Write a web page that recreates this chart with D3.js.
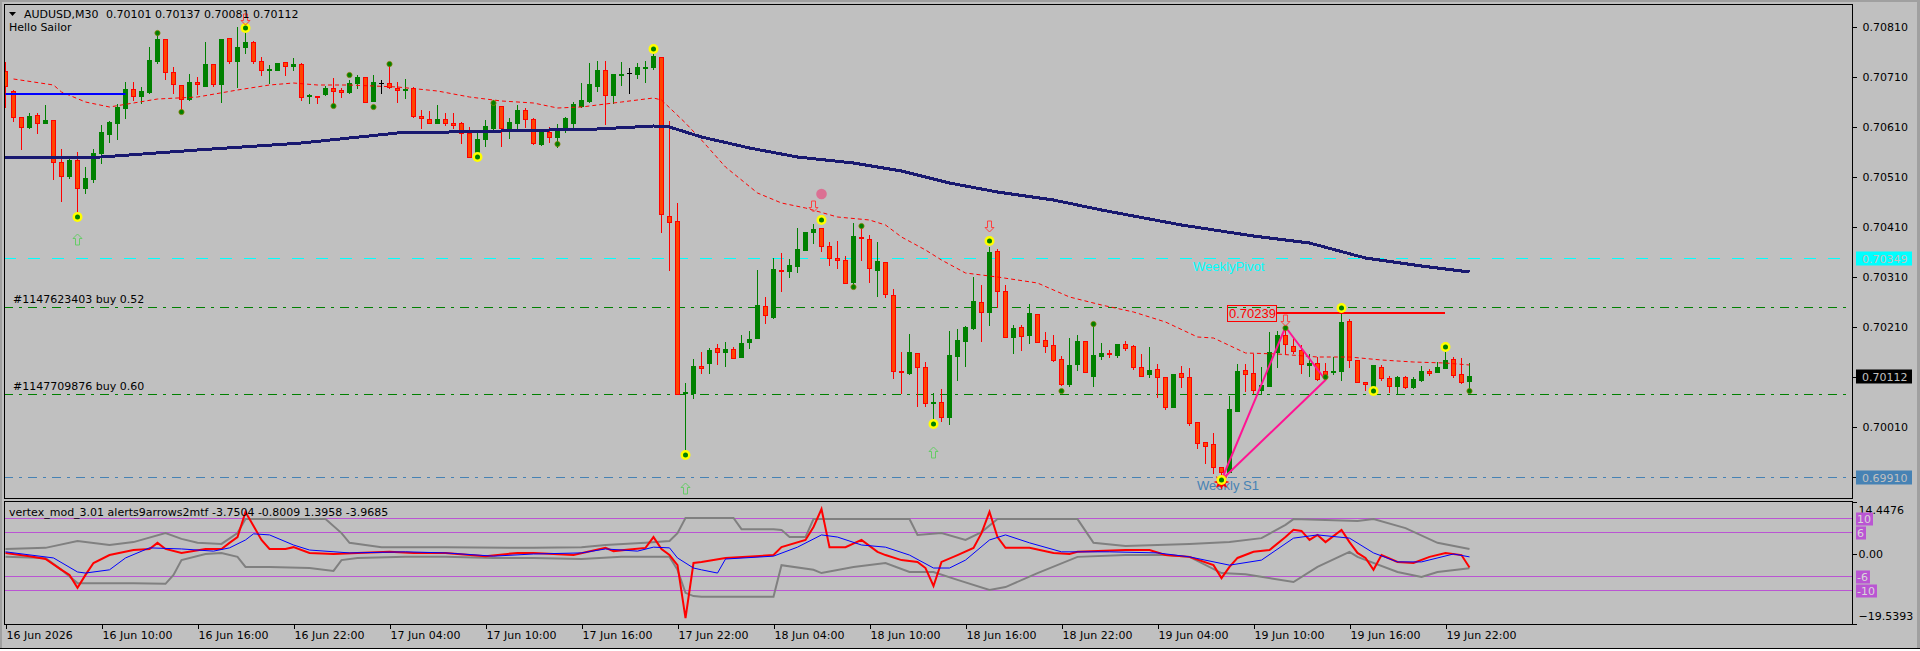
<!DOCTYPE html>
<html>
<head>
<meta charset="utf-8">
<script src="https://cdn.jsdelivr.net/npm/d3@7"></script>
<style>
body{margin:0;background:#c0c0c0;overflow:hidden}
svg{display:block}
text{font-family:"DejaVu Sans",sans-serif;font-size:11px}
</style>
</head>
<body>
<div id="wrap"></div>
<script>
// AUDUSD M30 bars, 16 Jun 04:00 .. 19 Jun 23:30
var barOpen = [
0.70722,0.70682,0.70630,0.70610,0.70634,0.70618,0.70624,0.70540,0.70512,0.70544,
0.70488,0.70506,0.70558,0.70596,0.70618,0.70648,0.70686,0.70672,0.70680,0.70742,
0.70786,0.70720,0.70694,0.70666,0.70700,0.70692,0.70736,0.70696,0.70788,0.70742,
0.70770,0.70780,0.70742,0.70724,0.70724,0.70740,0.70732,0.70736,0.70672,0.70672,
0.70676,0.70688,0.70684,0.70680,0.70698,0.70710,0.70662,0.70698,0.70698,0.70688,
0.70684,0.70688,0.70632,0.70626,0.70618,0.70626,0.70618,0.70618,0.70598,0.70558,
0.70586,0.70608,0.70652,0.70608,0.70618,0.70644,0.70626,0.70576,0.70600,0.70590,
0.70604,0.70618,0.70652,0.70662,0.70692,0.70724,0.70674,0.70714,0.70718,0.70716,
0.70728,0.70730,0.70750,0.70432,0.70422,0.70078,0.70078,0.70132,0.70138,0.70168,
0.70160,0.70166,0.70150,0.70180,0.70188,0.70252,0.70230,0.70324,0.70322,0.70332,
0.70364,0.70400,0.70408,0.70372,0.70348,0.70344,0.70300,0.70390,0.70386,0.70324,
0.70340,0.70274,0.70122,0.70118,0.70158,0.70130,0.70058,0.70060,0.70030,0.70152,
0.70182,0.70208,0.70260,0.70240,0.70362,0.70282,0.70190,0.70210,0.70194,0.70236,
0.70184,0.70174,0.70146,0.70096,0.70136,0.70182,0.70112,0.70152,0.70158,0.70154,
0.70176,0.70172,0.70130,0.70116,0.70126,0.70110,0.70050,0.70118,0.70110,0.70020,
0.69980,0.69976,0.69930,0.69920,0.70042,0.70124,0.70118,0.70084,0.70092,0.70160,
0.70194,0.70172,0.70164,0.70134,0.70138,0.70122,0.70120,0.70122,0.70222,0.70144,
0.70100,0.70084,0.70130,0.70108,0.70092,0.70110,0.70090,0.70104,0.70122,0.70120,
0.70128,0.70146,0.70116,0.70101];
var barHigh = [
0.70740,0.70684,0.70630,0.70638,0.70638,0.70654,0.70624,0.70566,0.70546,0.70560,
0.70530,0.70566,0.70614,0.70622,0.70656,0.70700,0.70700,0.70690,0.70770,0.70800,
0.70786,0.70730,0.70694,0.70716,0.70710,0.70780,0.70736,0.70786,0.70788,0.70810,
0.70800,0.70782,0.70750,0.70734,0.70738,0.70740,0.70748,0.70738,0.70676,0.70672,
0.70692,0.70708,0.70688,0.70704,0.70714,0.70710,0.70714,0.70704,0.70740,0.70700,
0.70706,0.70690,0.70644,0.70642,0.70654,0.70638,0.70638,0.70620,0.70610,0.70598,
0.70624,0.70664,0.70652,0.70628,0.70654,0.70648,0.70628,0.70602,0.70610,0.70616,
0.70630,0.70660,0.70698,0.70738,0.70742,0.70742,0.70716,0.70740,0.70728,0.70738,
0.70742,0.70758,0.70750,0.70622,0.70458,0.70098,0.70146,0.70160,0.70168,0.70176,
0.70180,0.70170,0.70194,0.70202,0.70324,0.70270,0.70348,0.70358,0.70346,0.70408,
0.70400,0.70416,0.70408,0.70380,0.70382,0.70352,0.70418,0.70410,0.70394,0.70380,
0.70340,0.70286,0.70160,0.70196,0.70158,0.70140,0.70078,0.70086,0.70202,0.70206,
0.70212,0.70310,0.70294,0.70370,0.70366,0.70294,0.70214,0.70214,0.70256,0.70236,
0.70200,0.70194,0.70152,0.70188,0.70194,0.70182,0.70216,0.70178,0.70164,0.70176,
0.70182,0.70174,0.70156,0.70170,0.70136,0.70110,0.70116,0.70132,0.70128,0.70020,
0.69980,0.69998,0.69930,0.70072,0.70136,0.70136,0.70156,0.70130,0.70200,0.70202,
0.70210,0.70190,0.70174,0.70156,0.70150,0.70138,0.70150,0.70240,0.70226,0.70144,
0.70100,0.70134,0.70134,0.70112,0.70112,0.70112,0.70110,0.70132,0.70126,0.70140,
0.70160,0.70150,0.70148,0.70137];
var barLow = [
0.70650,0.70622,0.70566,0.70608,0.70598,0.70618,0.70506,0.70462,0.70508,0.70438,
0.70478,0.70500,0.70538,0.70580,0.70586,0.70628,0.70664,0.70658,0.70678,0.70738,
0.70706,0.70678,0.70644,0.70664,0.70676,0.70692,0.70692,0.70660,0.70738,0.70690,
0.70758,0.70738,0.70714,0.70698,0.70724,0.70714,0.70724,0.70664,0.70658,0.70658,
0.70674,0.70658,0.70670,0.70678,0.70688,0.70660,0.70662,0.70678,0.70688,0.70660,
0.70668,0.70630,0.70608,0.70618,0.70618,0.70614,0.70608,0.70578,0.70550,0.70554,
0.70572,0.70604,0.70572,0.70588,0.70608,0.70610,0.70576,0.70574,0.70580,0.70570,
0.70600,0.70608,0.70650,0.70660,0.70682,0.70616,0.70658,0.70694,0.70678,0.70708,
0.70700,0.70726,0.70400,0.70324,0.70076,0.69954,0.70068,0.70118,0.70118,0.70136,
0.70132,0.70148,0.70150,0.70168,0.70188,0.70218,0.70228,0.70282,0.70310,0.70320,
0.70364,0.70378,0.70362,0.70334,0.70328,0.70298,0.70288,0.70344,0.70300,0.70272,
0.70270,0.70108,0.70078,0.70116,0.70052,0.70052,0.70026,0.70022,0.70016,0.70104,
0.70132,0.70206,0.70182,0.70214,0.70250,0.70190,0.70158,0.70164,0.70178,0.70180,
0.70160,0.70142,0.70094,0.70092,0.70124,0.70120,0.70092,0.70146,0.70150,0.70150,
0.70164,0.70126,0.70112,0.70110,0.70070,0.70046,0.70050,0.70090,0.70014,0.69968,
0.69938,0.69918,0.69898,0.69920,0.70042,0.70082,0.70078,0.70076,0.70092,0.70130,
0.70158,0.70158,0.70118,0.70112,0.70104,0.70108,0.70116,0.70104,0.70130,0.70100,
0.70084,0.70078,0.70104,0.70080,0.70078,0.70088,0.70088,0.70102,0.70114,0.70120,
0.70128,0.70110,0.70098,0.70081];
var barClose = [
0.70692,0.70630,0.70610,0.70632,0.70618,0.70624,0.70540,0.70512,0.70544,0.70488,
0.70508,0.70558,0.70600,0.70620,0.70650,0.70686,0.70672,0.70682,0.70744,0.70786,
0.70720,0.70696,0.70666,0.70700,0.70696,0.70736,0.70696,0.70786,0.70742,0.70770,
0.70780,0.70742,0.70724,0.70726,0.70738,0.70732,0.70736,0.70670,0.70674,0.70670,
0.70688,0.70682,0.70680,0.70698,0.70710,0.70660,0.70700,0.70698,0.70690,0.70684,
0.70686,0.70632,0.70628,0.70618,0.70626,0.70618,0.70614,0.70598,0.70550,0.70586,
0.70612,0.70656,0.70608,0.70620,0.70644,0.70626,0.70578,0.70600,0.70590,0.70606,
0.70628,0.70656,0.70664,0.70696,0.70724,0.70674,0.70716,0.70716,0.70718,0.70730,
0.70730,0.70752,0.70436,0.70420,0.70076,0.70080,0.70132,0.70128,0.70164,0.70160,
0.70166,0.70148,0.70178,0.70186,0.70254,0.70234,0.70326,0.70322,0.70334,0.70366,
0.70400,0.70406,0.70372,0.70348,0.70344,0.70298,0.70392,0.70388,0.70328,0.70342,
0.70276,0.70122,0.70120,0.70160,0.70130,0.70058,0.70060,0.70030,0.70154,0.70184,
0.70210,0.70262,0.70240,0.70360,0.70282,0.70190,0.70208,0.70192,0.70238,0.70180,
0.70172,0.70144,0.70096,0.70134,0.70182,0.70120,0.70154,0.70158,0.70156,0.70176,
0.70168,0.70130,0.70112,0.70124,0.70110,0.70050,0.70116,0.70110,0.70018,0.69978,
0.69972,0.69930,0.69920,0.70046,0.70122,0.70116,0.70084,0.70094,0.70160,0.70194,
0.70176,0.70162,0.70136,0.70138,0.70106,0.70116,0.70122,0.70220,0.70144,0.70100,
0.70096,0.70134,0.70108,0.70092,0.70110,0.70090,0.70106,0.70122,0.70118,0.70130,
0.70144,0.70114,0.70100,0.70112];

// moving averages, sampled [bar, price]
var maSlow = [[0,0.70548],[12,0.70550],[24,0.70564],[37,0.70578],[49,0.70598],[62,0.70602],[74,0.70606],[81,0.70612],[83,0.70610],[87,0.70590],[93,0.70568],[99,0.70550],[106,0.70538],[112,0.70522],[118,0.70498],[124,0.70480],[131,0.70464],[137,0.70444],[143,0.70426],[147,0.70414],[156,0.70392],[163,0.70378],[170,0.70348],[177,0.70332],[183,0.70320]];
var maFast = [[1,0.70706],[6,0.70694],[7,0.70680],[10,0.70660],[13,0.70650],[16,0.70658],[19,0.70666],[24,0.70670],[29,0.70684],[33,0.70694],[36,0.70698],[39,0.70694],[43,0.70694],[46,0.70692],[49,0.70690],[54,0.70682],[58,0.70670],[62,0.70662],[66,0.70658],[69,0.70648],[72,0.70650],[77,0.70660],[81,0.70668],[82,0.70664],[85,0.70618],[87,0.70584],[90,0.70530],[94,0.70478],[97,0.70458],[100,0.70448],[104,0.70430],[108,0.70424],[110,0.70414],[112,0.70390],[115,0.70364],[117,0.70344],[120,0.70318],[124,0.70310],[129,0.70298],[133,0.70270],[137,0.70254],[141,0.70240],[145,0.70220],[149,0.70190],[151,0.70188],[155,0.70158],[159,0.70156],[164,0.70150],[168,0.70150],[172,0.70144],[176,0.70140],[180,0.70138],[183,0.70134]];

// vertex_mod indicator buffers [bar, value]
var vxMain = [[0,0.3],[3,-0.6],[5,-1.4],[7,-4.4],[8,-5.8],[9,-9.4],[10,-5.8],[11,-2.5],[13,-0.3],[16,1.1],[18,1.4],[19,3.1],[20,1.4],[22,0.3],[25,1.4],[27,1.4],[28,3.1],[29,4.7],[30,11.7],[32,3.9],[33,1.4],[35,1.4],[36,1.9],[38,0.3],[41,0],[44,0.3],[48,0.6],[51,0.3],[55,0.3],[60,-0.6],[64,0.3],[66,0.3],[71,-0.3],[75,1.7],[76,0.8],[80,1.7],[81,4.7],[82,1.4],[83,-0.3],[84,-3.1],[85,-17.8],[86,-2.5],[87,-2.2],[90,-1.1],[96,-0.3],[97,1.9],[100,3.9],[101,7.5],[102,12.5],[103,1.9],[105,1.9],[107,3.9],[109,0.6],[110,-0.3],[112,-1.7],[114,-2.2],[115,-3.9],[116,-8.9],[117,-2.2],[119,-0.3],[121,1.7],[122,5.8],[123,11.7],[124,4.7],[125,1.7],[128,1.7],[131,0.3],[133,0],[134,0.6],[140,1.1],[143,1.1],[145,-0.3],[148,-0.8],[151,-3.1],[152,-6.7],[153,-3.6],[154,-1.1],[156,0.6],[158,1.1],[160,4.7],[161,6.7],[162,6.4],[163,3.9],[164,5.3],[165,3.3],[167,6.7],[168,3.3],[169,0.3],[170,-1.1],[171,-4.4],[172,-0.3],[174,-2.2],[176,-2.5],[178,-0.8],[180,0.3],[182,-0.3],[183,-3.7504]];
var vxSignal = [[0,0.6],[6,-1.1],[9,-5],[10,-5.3],[13,-4.4],[15,-1.1],[18,1.7],[22,1.4],[26,0.8],[28,1.7],[30,3.9],[31,5.6],[33,5.3],[36,2.5],[38,1.1],[43,0.3],[50,0.6],[55,0.3],[61,-0.6],[66,0],[72,0.3],[75,1.4],[79,0.8],[81,1.9],[83,1.7],[84,-1.1],[86,-3.9],[87,-4.4],[89,-5.3],[90,-1.4],[96,-0.6],[99,1.9],[102,5.3],[104,4.7],[107,2.5],[110,1.9],[113,-0.3],[116,-3.9],[118,-3.9],[120,-1.7],[123,3.9],[125,5.3],[128,3.1],[132,0.6],[138,0.6],[144,0.3],[148,-0.8],[153,-3.1],[157,-1.7],[161,4.4],[164,5.3],[168,4.4],[171,0.3],[174,-2.2],[177,-2.2],[181,0],[183,-0.8009]];
var vxUpper = [[0,1.4],[5,1.7],[9,3.6],[13,2.5],[16,3.3],[20,5.8],[22,4.2],[24,3.1],[27,2.8],[29,5.8],[30,9.7],[40,9.7],[42,5.8],[43,3.1],[47,1.9],[55,1.9],[66,1.7],[72,1.9],[75,2.5],[80,3.1],[83,3.6],[84,5.8],[85,10],[91,10],[92,6.9],[96,6.9],[97,6.7],[98,4.7],[100,4.7],[101,9.7],[113,9.7],[114,5.3],[117,5.8],[120,3.9],[122,6.1],[124,9.7],[134,9.7],[136,3.1],[140,2.2],[148,2.8],[153,3.3],[157,4.4],[160,8.1],[161,9.7],[169,9.2],[171,9.7],[175,7.2],[179,3.1],[183,1.3958]];
var vxLower = [[0,-0.8],[5,-1.1],[7,-4.4],[9,-8.1],[16,-8.1],[20,-8.3],[21,-5.8],[22,-1.7],[25,0],[27,0.3],[29,-0.8],[30,-3.6],[33,-3.6],[38,-3.9],[41,-4.7],[42,-1.7],[44,-1.1],[50,-0.8],[55,-0.8],[61,-1.1],[66,-1.1],[72,-1.4],[77,-0.8],[83,-0.8],[84,-4.4],[85,-10.8],[86,-11.7],[87,-11.9],[96,-11.9],[97,-3.1],[101,-4.4],[102,-5.3],[106,-3.6],[110,-2.5],[113,-5],[116,-5],[119,-7.2],[123,-10],[125,-9.2],[129,-5.3],[134,-0.8],[140,-0.3],[145,-0.3],[148,-0.8],[152,-5.3],[155,-5.6],[161,-7.8],[164,-3.6],[168,0.6],[169,-0.8],[174,-5],[177,-6.4],[179,-5],[183,-3.9685]];

// signal markers [bar, price]
var ringDots = [[9,0.70430],[30,0.70808],[59,0.70550],[81,0.70766],[85,0.69954],[102,0.70424],[116,0.70016],[123,0.70382],[152,0.69904],[167,0.70248],[171,0.70082],[180,0.70170]];
var smallDots = [[19,0.70798],[22,0.70640],[41,0.70652],[43,0.70714],[46,0.70650],[48,0.70736],[61,0.70658],[69,0.70576],[106,0.70290],[107,0.70412],[132,0.70082],[136,0.70216],[160,0.70208],[165,0.70110],[183,0.70082]];
var upArrows = [[9,0.70386],[85,0.69888],[116,0.69960]];
var downArrows = [[30,0.70826],[101,0.70452],[123,0.70412],[160,0.70224]];
var pinkDots = [[102,0.70476]];
var starMarks = [[152,0.69900]];
var zigzag = [[152,0.69904],[160,0.70210],[165,0.70104],[152,0.69904]];

// objects / levels
var weeklyPivot = 0.70349, weeklyS1 = 0.69910, bidPrice = 0.70112;
var orderPrices = [0.70250, 0.70076];
var orderLabels = ["#1147623403 buy 0.52", "#1147709876 buy 0.60"];
var highLevel = 0.70239, highLevelBars = [159, 180];
var blueSeg = [[0,0.70676],[15,0.70676]];
var subLevels = [10, 6, -6, -10];
var subRange = [-19.5393, 14.4476];
var priceTicks = [0.70810,0.70710,0.70610,0.70510,0.70410,0.70310,0.70210,0.70110,0.70010,0.69910];
var timeLabels = ["16 Jun 2026","16 Jun 10:00","16 Jun 16:00","16 Jun 22:00","17 Jun 04:00","17 Jun 10:00","17 Jun 16:00","17 Jun 22:00","18 Jun 04:00","18 Jun 10:00","18 Jun 16:00","18 Jun 22:00","19 Jun 04:00","19 Jun 10:00","19 Jun 16:00","19 Jun 22:00"];
var timeTickBars = [0,12,24,36,48,60,72,84,96,108,120,132,144,156,168,180];

var mt4 = {};
mt4.width = 1920;
mt4.height = 651;
mt4.main = {left:4, right:1852, top:4, bottom:498};
mt4.sub = {top:501, bottom:624};
mt4.svg = d3.select("#wrap").append("svg").attr("width",mt4.width).attr("height",mt4.height);
mt4.x = d3.scaleLinear().domain([0,183]).range([5,1469]);
mt4.y = d3.scaleLinear().domain([0.69868,0.70856]).range([498,4]);
mt4.yi = d3.scaleLinear().domain(subRange).range([624.3,502]);

var defs = mt4.svg.append("defs");
defs.append("clipPath").attr("id","clipmain").append("rect")
	.attr("x",mt4.main.left+1).attr("y",mt4.main.top+1)
	.attr("width",mt4.main.right-mt4.main.left-1).attr("height",mt4.main.bottom-mt4.main.top-1);
defs.append("clipPath").attr("id","clipsub").append("rect")
	.attr("x",mt4.main.left+1).attr("y",mt4.sub.top+1)
	.attr("width",mt4.main.right-mt4.main.left-1).attr("height",mt4.sub.bottom-mt4.sub.top-1);

mt4.svg.append("rect").attr("width",mt4.width).attr("height",mt4.height).attr("fill","#c0c0c0");

mt4.layers = {};
mt4.layers.levels = mt4.svg.append("g").attr("clip-path","url(#clipmain)");
mt4.layers.candles = mt4.svg.append("g").attr("clip-path","url(#clipmain)").attr("shape-rendering","crispEdges");
mt4.layers.lines = mt4.svg.append("g").attr("clip-path","url(#clipmain)");
mt4.layers.marks = mt4.svg.append("g").attr("clip-path","url(#clipmain)");
mt4.layers.sub = mt4.svg.append("g").attr("clip-path","url(#clipsub)");
mt4.layers.axes = mt4.svg.append("g");
mt4.layers.text = mt4.svg.append("g");

mt4.hline = function(g, price, color, dash){
	var y = Math.round(mt4.y(price))+0.5;
	g.append("line").attr("x1",mt4.main.left).attr("x2",mt4.main.right)
		.attr("y1",y).attr("y2",y).attr("stroke",color).attr("stroke-width",1)
		.attr("stroke-dasharray",dash).attr("shape-rendering","crispEdges");
}

mt4.drawlevels = function(){
	var g = mt4.layers.levels;
	mt4.hline(g, weeklyPivot, "#00ffff", "12,12");
	mt4.hline(g, weeklyS1, "#4682b4", "9,6,3,6");
	orderPrices.forEach(function(p){ mt4.hline(g, p, "#008000", "9,6,3,6"); });
}

mt4.drawcandles = function(){
	var g = mt4.layers.candles, y = mt4.y;
	for(var i=0; i<barOpen.length; i++){
		var o = barOpen[i], h = barHigh[i], l = barLow[i], c = barClose[i];
		var x = mt4.x(i);
		var col = c>o ? "#008000" : (c<o ? "#ff0000" : "#000000");
		var yh = Math.round(y(h)), yl = Math.round(y(l));
		g.append("rect").attr("x",x).attr("y",yh).attr("width",1).attr("height",yl-yh+1).attr("fill",col);
		var top = Math.round(y(Math.max(o,c))), bot = Math.round(y(Math.min(o,c)));
		var bh = Math.max(1, bot-top+1);
		if(c==o || bh<2){
			g.append("rect").attr("x",x-2).attr("y",top).attr("width",5).attr("height",1).attr("fill",col);
		}
		else if(c>o){
			g.append("rect").attr("x",x-2).attr("y",top).attr("width",5).attr("height",bh).attr("fill","#008000");
		}
		else{
			g.append("rect").attr("x",x-2).attr("y",top).attr("width",5).attr("height",bh).attr("fill","#ff0000");
			if(bh>2) g.append("rect").attr("x",x-1).attr("y",top+1).attr("width",3).attr("height",bh-2).attr("fill","#ff4500");
		}
	}
}

mt4.drawlines = function(){
	var g = mt4.layers.lines;
	var line = d3.line().x(function(d){return mt4.x(d[0])+0.5}).y(function(d){return mt4.y(d[1])});
	g.append("path").attr("d",line(maFast)).attr("fill","none").attr("stroke","#ff0000")
		.attr("stroke-width",1).attr("stroke-dasharray","4,3");
	//MT4 draws without antialiasing, so the thick MA shows pixel steps
	g.append("path").attr("d",line(maSlow)).attr("fill","none").attr("stroke","#191970")
		.attr("stroke-width",3).attr("shape-rendering","crispEdges");
	g.append("path").attr("d",line(blueSeg)).attr("fill","none").attr("stroke","#0000ff").attr("stroke-width",2);
	g.append("path").attr("d",line(zigzag)).attr("fill","none").attr("stroke","#ff1493")
		.attr("stroke-width",2).attr("stroke-linejoin","round");
	var yl = Math.round(mt4.y(highLevel));
	g.append("line").attr("x1",mt4.x(highLevelBars[0])).attr("x2",mt4.x(highLevelBars[1]))
		.attr("y1",yl).attr("y2",yl).attr("stroke","#ff0000").attr("stroke-width",2);
	//price label of the level
	g.append("rect").attr("x",1227.5).attr("y",yl-7.5).attr("width",49).attr("height",16)
		.attr("fill","none").attr("stroke","#ff0000").attr("stroke-width",1);
	g.append("text").attr("x",1229).attr("y",yl+5).text(highLevel.toFixed(5))
		.style("font-family","'Liberation Sans',Arial,sans-serif").style("font-size","13px").attr("fill","#ff0000");
	g.append("text").attr("x",1193).attr("y",Math.round(mt4.y(weeklyPivot))+13).text("WeeklyPivot")
		.style("font-family","'Liberation Sans',Arial,sans-serif").style("font-size","13px").attr("fill","#00ffff");
	g.append("text").attr("x",1197).attr("y",Math.round(mt4.y(weeklyS1))+13).text("Weekly S1")
		.style("font-family","'Liberation Sans',Arial,sans-serif").style("font-size","13px").attr("fill","#4682b4");
	orderPrices.forEach(function(p,k){
		g.append("text").attr("x",13).attr("y",Math.round(mt4.y(p))-4).text(orderLabels[k]).attr("fill","#000");
	});
}

mt4.drawmarks = function(){
	var g = mt4.layers.marks;
	var px = function(d){return mt4.x(d[0])+0.5}, py = function(d){return mt4.y(d[1])};

	starMarks.forEach(function(d){
		var cx = px(d), cy = py(d), pts = [];
		for(var k=0; k<16; k++){
			var a = k*Math.PI/8, r = k%2==0 ? 8 : 4;
			pts.push([cx+r*Math.sin(a), cy-r*Math.cos(a)]);
		}
		g.append("polygon").attr("points",pts.join(" ")).attr("fill","#ff0000");
	});

	g.selectAll("circle.ring").data(ringDots).enter().append("circle").classed("ring",true)
		.attr("cx",px).attr("cy",py).attr("r",5).attr("fill","#ffff00");
	g.selectAll("circle.ringin").data(ringDots).enter().append("circle").classed("ringin",true)
		.attr("cx",px).attr("cy",py).attr("r",2.5).attr("fill","#008000");
	g.selectAll("circle.small").data(smallDots).enter().append("circle").classed("small",true)
		.attr("cx",px).attr("cy",py).attr("r",2.6).attr("fill","#008000").attr("stroke","#808000").attr("stroke-width",0.8);
	g.selectAll("circle.pink").data(pinkDots).enter().append("circle").classed("pink",true)
		.attr("cx",px).attr("cy",py).attr("r",5.3).attr("fill","#db7093");

	var arrow = function(cx, cy, dir){
		var s = dir;
		return "M"+cx+","+(cy-5.5*s)+"L"+(cx+4.5)+","+(cy-1*s)+"L"+(cx+2)+","+(cy-1*s)+"L"+(cx+2)+","+(cy+5.5*s)
			+"L"+(cx-2)+","+(cy+5.5*s)+"L"+(cx-2)+","+(cy-1*s)+"L"+(cx-4.5)+","+(cy-1*s)+"Z";
	}
	upArrows.forEach(function(d){
		g.append("path").attr("d",arrow(px(d),Math.round(py(d))+0.5,1)).attr("fill","none").attr("stroke","#66cc66").attr("stroke-width",1);
	});
	downArrows.forEach(function(d){
		g.append("path").attr("d",arrow(px(d),Math.round(py(d))+0.5,-1)).attr("fill","none").attr("stroke","#ff4040").attr("stroke-width",1);
	});
}

mt4.drawsub = function(){
	var g = mt4.layers.sub;
	subLevels.forEach(function(v){
		var y = Math.round(mt4.yi(v))+0.5;
		g.append("line").attr("x1",mt4.main.left).attr("x2",mt4.main.right).attr("y1",y).attr("y2",y)
			.attr("stroke","#ba55d3").attr("stroke-width",1).attr("shape-rendering","crispEdges");
	});
	var line = d3.line().x(function(d){return mt4.x(d[0])+0.5}).y(function(d){return mt4.yi(d[1])});
	g.append("path").attr("d",line(vxUpper)).attr("fill","none").attr("stroke","#808080").attr("stroke-width",2);
	g.append("path").attr("d",line(vxLower)).attr("fill","none").attr("stroke","#808080").attr("stroke-width",2);
	g.append("path").attr("d",line(vxMain)).attr("fill","none").attr("stroke","#ff0000").attr("stroke-width",2);
	g.append("path").attr("d",line(vxSignal)).attr("fill","none").attr("stroke","#0000ff").attr("stroke-width",1);
	g.append("text").attr("x",9).attr("y",mt4.sub.top+15)
		.text("vertex_mod_3.01 alerts9arrows2mtf "+[vxMain[vxMain.length-1][1],vxSignal[vxSignal.length-1][1],vxUpper[vxUpper.length-1][1],vxLower[vxLower.length-1][1]].map(function(v){return v.toFixed(4)}).join(" "))
		.attr("fill","#000");
}

mt4.drawaxes = function(){
	var g = mt4.layers.axes;
	var m = mt4.main;

	var pa = g.append("g").attr("transform","translate("+(m.right+0.5)+",0)")
		.call(d3.axisRight(mt4.y).tickValues(priceTicks).tickSize(4).tickPadding(6).tickFormat(d3.format(".5f")));
	pa.select(".domain").remove();
	pa.selectAll("text").style("font-family","'DejaVu Sans',sans-serif").style("font-size","11px").attr("fill","#000");
	pa.selectAll("line").attr("stroke","#000").attr("shape-rendering","crispEdges");

	var sa = g.append("g").attr("transform","translate("+(m.right+0.5)+",0)")
		.call(d3.axisRight(mt4.yi).tickValues([subRange[1],0,subRange[0]]).tickSize(4).tickPadding(2)
			.tickFormat(function(d){return d==0 ? "0.00" : d3.format(".4f")(d)}));
	sa.select(".domain").remove();
	sa.selectAll("text").style("font-family","'DejaVu Sans',sans-serif").style("font-size","11px").attr("fill","#000")
		.attr("transform",function(d){return d==subRange[1] ? "translate(0,8)" : (d==subRange[0] ? "translate(0,-8)" : null)});
	sa.selectAll("line").attr("stroke","#000").attr("shape-rendering","crispEdges");

	var ta = g.append("g").attr("transform","translate(0,"+(mt4.sub.bottom+0.5)+")")
		.call(d3.axisBottom(mt4.x).tickValues(timeTickBars).tickSize(4).tickPadding(3)
			.tickFormat(function(d,i){return timeLabels[i]}));
	ta.select(".domain").remove();
	ta.selectAll("line").attr("stroke","#000").attr("transform","translate(0.5,0)").attr("shape-rendering","crispEdges");
	ta.selectAll("text").style("font-family","'DejaVu Sans',sans-serif").style("font-size","11px").attr("fill","#000")
		.attr("text-anchor","start").attr("x",1);

	//price boxes
	var lb = g.append("g");
	var boxes = [[weeklyPivot,"#00ffff"],[bidPrice,"#000000"],[weeklyS1,"#4682b4"]];
	boxes.forEach(function(b){
		var y = Math.round(mt4.y(b[0]))+0.5;
		var bg = lb.append("g");
		bg.append("rect").attr("x",1856).attr("y",y-7).attr("width",56).attr("height",14).attr("fill",b[1]);
		bg.append("text").attr("x",1862).attr("y",y+4).text(b[0].toFixed(5)).attr("fill","#c0c0c0");
	});
	subLevels.forEach(function(v){
		var y = Math.round(mt4.yi(v))+0.5;
		var bg = lb.append("g");
		var r = bg.append("rect").attr("x",1856).attr("y",y-6).attr("height",13).attr("fill","#ba55d3");
		var t = bg.append("text").attr("x",1857).attr("y",y+4).text(String(v)).attr("fill","#d8d8d8");
		r.attr("width",t.node().getComputedTextLength()+3);
	});

	//frames
	g.append("rect").attr("x",m.left+0.5).attr("y",m.top+0.5).attr("width",m.right-m.left).attr("height",m.bottom-m.top)
		.attr("fill","none").attr("stroke","#000").attr("shape-rendering","crispEdges");
	g.append("rect").attr("x",m.left+0.5).attr("y",mt4.sub.top+0.5).attr("width",m.right-m.left).attr("height",mt4.sub.bottom-mt4.sub.top)
		.attr("fill","none").attr("stroke","#000").attr("shape-rendering","crispEdges");
	g.append("rect").attr("x",0).attr("y",0).attr("width",mt4.width).attr("height",2).attr("fill","#a0a0a0");
	g.append("rect").attr("x",0).attr("y",0).attr("width",2).attr("height",mt4.height).attr("fill","#a0a0a0");
	g.append("rect").attr("x",1917).attr("y",0).attr("width",3).attr("height",mt4.height).attr("fill","#a0a0a0");
	g.append("rect").attr("x",0).attr("y",648).attr("width",mt4.width).attr("height",1).attr("fill","#000");
	g.append("rect").attr("x",0).attr("y",649).attr("width",mt4.width).attr("height",2).attr("fill","#ffffff");
}

mt4.drawheader = function(){
	var g = mt4.layers.text;
	g.append("polygon").attr("points","9,12 16,12 12.5,16").attr("fill","#000");
	g.append("text").attr("x",24).attr("y",18).text("AUDUSD,M30").attr("fill","#000");
	g.append("text").attr("x",106).attr("y",18)
		.text([barOpen[183],barHigh[183],barLow[183],barClose[183]].map(function(v){return v.toFixed(5)}).join(" ")).attr("fill","#000");
	g.append("text").attr("x",9).attr("y",31).text("Hello Sailor").attr("fill","#000");
}

mt4.draw = function(){
	mt4.drawlevels();
	mt4.drawcandles();
	mt4.drawlines();
	mt4.drawmarks();
	mt4.drawsub();
	mt4.drawaxes();
	mt4.drawheader();
}
mt4.draw();
</script>
</body>
</html>
